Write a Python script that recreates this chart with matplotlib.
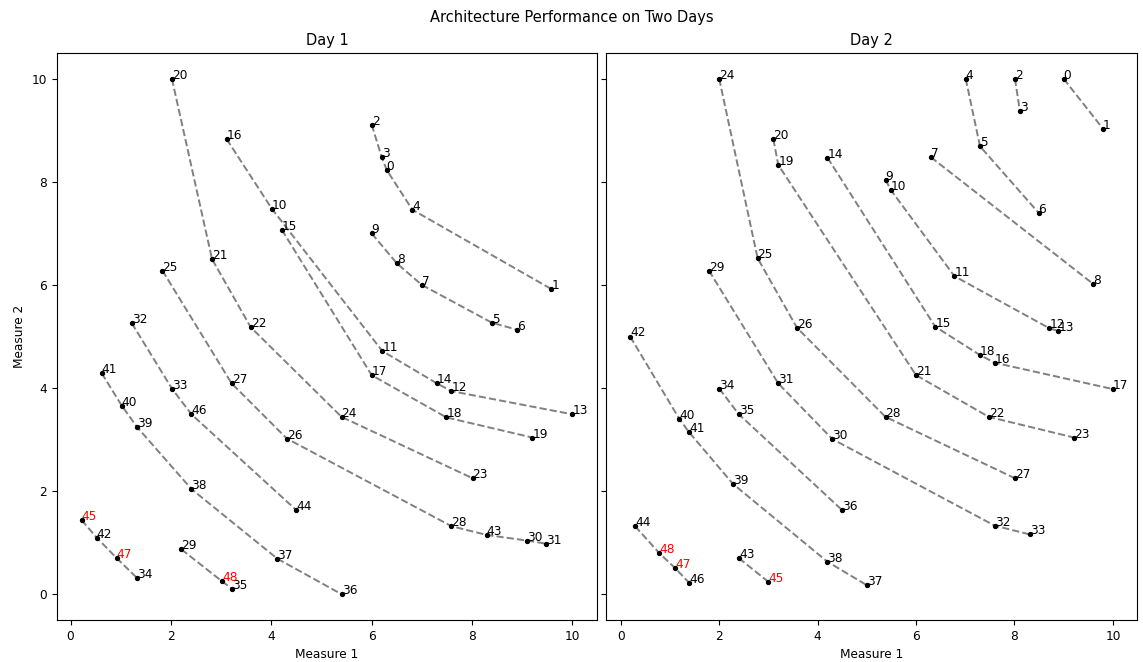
import matplotlib
matplotlib.use("Agg")
import matplotlib.pyplot as plt

# ---- Day 1 data (point id -> Measure 1, Measure 2) ----
day1_ids = list(range(49))
day1_m1 = [6.30, 9.58, 6.00, 6.20, 6.81, 8.39, 8.90, 7.00, 6.50, 6.00,
           4.01, 6.21, 7.59, 10.00, 7.30, 4.21, 3.11, 6.00, 7.49, 9.20,
           2.02, 2.82, 3.59, 8.01, 5.40, 1.83, 4.31, 3.21, 7.59, 2.21,
           9.10, 9.48, 1.22, 2.02, 1.32, 3.21, 5.40, 4.12, 2.41, 1.32,
           1.02, 0.62, 0.52, 8.29, 4.50, 0.22, 2.41, 0.92, 3.02]
day1_m2 = [8.23, 5.92, 9.11, 8.48, 7.46, 5.27, 5.13, 6.00, 6.42, 7.00,
           7.48, 4.72, 3.94, 3.49, 4.09, 7.07, 8.83, 4.25, 3.43, 3.04,
           10.00, 6.50, 5.18, 2.25, 3.44, 6.28, 3.02, 4.09, 1.32, 0.87,
           1.04, 0.98, 5.26, 3.99, 0.32, 0.11, 0.00, 0.69, 2.04, 3.25,
           3.66, 4.29, 1.10, 1.15, 1.63, 1.44, 3.49, 0.70, 0.25]
day1_chains = [[2, 3, 0, 4, 1], [9, 8, 7, 5, 6], [20, 21, 22, 24, 23],
               [16, 10, 11, 14, 12, 13], [15, 17, 18, 19],
               [25, 27, 26, 28, 43, 30, 31], [32, 33, 46, 44],
               [41, 40, 39, 38, 37, 36], [45, 42, 47, 34], [29, 48, 35]]

# ---- Day 2 data ----
day2_ids = list(range(49))
day2_m1 = [9.00, 9.80, 8.01, 8.11, 7.01, 7.30, 8.49, 6.30, 9.60, 5.38,
           5.49, 6.78, 8.71, 8.89, 4.20, 6.39, 7.60, 10.00, 7.30, 3.20,
           3.10, 6.00, 7.48, 9.21, 2.00, 2.78, 3.58, 8.01, 5.38, 1.79,
           4.30, 3.20, 7.60, 8.31, 2.00, 2.40, 4.50, 5.01, 4.20, 2.28,
           1.19, 1.39, 0.19, 2.40, 0.29, 3.00, 1.39, 1.10, 0.78]
day2_m2 = [10.00, 9.03, 10.00, 9.38, 10.00, 8.69, 7.40, 8.48, 6.02, 8.04,
           7.84, 6.17, 5.16, 5.11, 8.47, 5.19, 4.49, 3.98, 4.64, 8.33,
           8.83, 4.25, 3.44, 3.04, 10.00, 6.52, 5.17, 2.25, 3.44, 6.28,
           3.01, 4.09, 1.33, 1.16, 3.99, 3.49, 1.63, 0.17, 0.63, 2.14,
           3.40, 3.14, 5.00, 0.70, 1.32, 0.24, 0.22, 0.51, 0.80]
day2_chains = [[0, 1], [2, 3], [4, 5, 6], [7, 8], [9, 10, 11, 12, 13],
               [14, 15, 18, 16, 17], [20, 19, 21, 22, 23],
               [24, 25, 26, 28, 27], [29, 31, 30, 32, 33], [34, 35, 36],
               [42, 40, 41, 39, 38, 37], [44, 48, 47, 46], [43, 45]]

highlight_ids = [45, 47, 48]

plt.rcParams['font.size'] = 8.75

W, H = 1143, 662
fig, axes = plt.subplots(1, 2, figsize=(W / 100, H / 100), dpi=100, sharey=True)

def px_box(x0, x1, ytop, ybot):
    return [x0 / W, 1 - ybot / H, (x1 - x0) / W, (ybot - ytop) / H]

axes[0].set_position(px_box(57, 597, 53, 620))
axes[1].set_position(px_box(606, 1137, 53, 620))

panels = [("Day 1", day1_ids, day1_m1, day1_m2, day1_chains),
          ("Day 2", day2_ids, day2_m1, day2_m2, day2_chains)]

for ax, (title, ids, m1, m2, chains) in zip(axes, panels):
    for chain in chains:
        ax.plot([m1[i] for i in chain], [m2[i] for i in chain],
                linestyle="--", color="gray", linewidth=1.4, zorder=1)
    ax.scatter(m1, m2, s=8, color="black", zorder=2)
    for i in ids:
        ax.text(m1[i], m2[i], str(i), fontsize=8.75,
                color="red" if i in highlight_ids else "black", zorder=3)
    ax.set_title(title)
    ax.set_xlabel("Measure 1")

axes[0].set_ylabel("Measure 2")
fig.suptitle("Architecture Performance on Two Days", y=0.985)

fig.savefig("out.png", dpi=100)
